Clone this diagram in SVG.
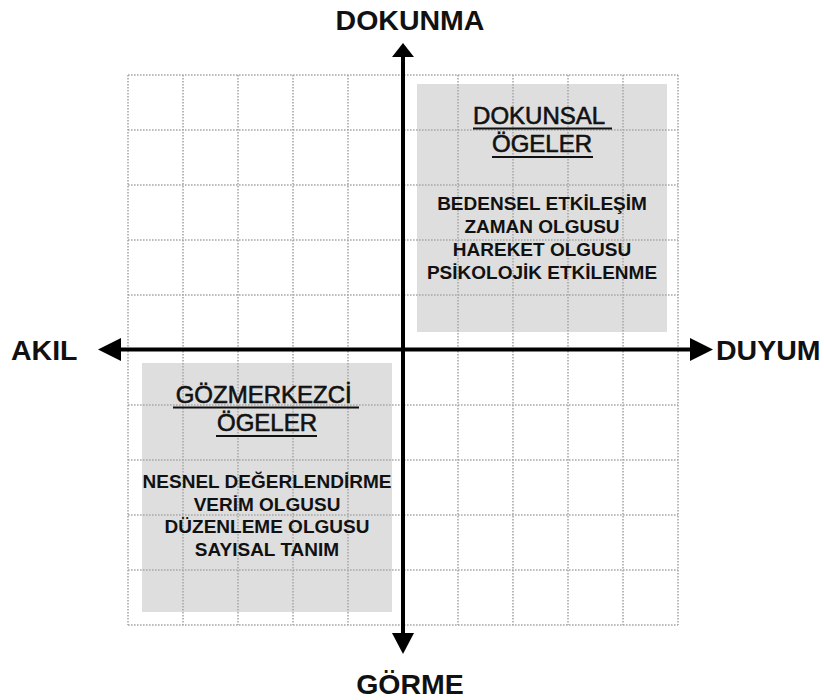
<svg xmlns="http://www.w3.org/2000/svg" width="824" height="700" viewBox="0 0 824 700">
  <style>
    .grid line { stroke: #a8a8a8; stroke-width: 1.6; stroke-dasharray: 1.6 1.4; }
    .panel { fill: #dedede; }
    .axis-label { font-family: "Liberation Sans", Arial, sans-serif; font-weight: bold; font-size: 28.5px; fill: #111; }
    .title { font-family: "Liberation Sans", Arial, sans-serif; font-size: 24px; fill: #111; stroke: #111; stroke-width: 0.6; text-anchor: middle; }
    .item { font-family: "Liberation Sans", Arial, sans-serif; font-weight: bold; font-size: 19px; fill: #111; text-anchor: middle; }
    .uline { fill: #111; }
    .axis { stroke: #000; stroke-width: 4; fill: none; }
    .head { fill: #000; }
  </style>

  <rect width="824" height="700" fill="#fff"/>

  <!-- quadrant panels -->
  <g id="panel-dokunsal">
    <rect class="panel" x="417" y="84" width="250" height="248"/>
  </g>
  <g id="panel-gozmerkezci">
    <rect class="panel" x="142" y="363" width="250" height="249"/>
  </g>

  <!-- dotted background grid, 10 x 10 cells of 55px -->
  <g class="grid">
    <line x1="128" y1="75" x2="128" y2="625"/>
    <line x1="183" y1="75" x2="183" y2="625"/>
    <line x1="238" y1="75" x2="238" y2="625"/>
    <line x1="293" y1="75" x2="293" y2="625"/>
    <line x1="348" y1="75" x2="348" y2="625"/>
    <line x1="458" y1="75" x2="458" y2="625"/>
    <line x1="513" y1="75" x2="513" y2="625"/>
    <line x1="568" y1="75" x2="568" y2="625"/>
    <line x1="623" y1="75" x2="623" y2="625"/>
    <line x1="678" y1="75" x2="678" y2="625"/>
    <line x1="128" y1="75" x2="678" y2="75"/>
    <line x1="128" y1="130" x2="678" y2="130"/>
    <line x1="128" y1="185" x2="678" y2="185"/>
    <line x1="128" y1="240" x2="678" y2="240"/>
    <line x1="128" y1="295" x2="678" y2="295"/>
    <line x1="128" y1="405" x2="678" y2="405"/>
    <line x1="128" y1="460" x2="678" y2="460"/>
    <line x1="128" y1="515" x2="678" y2="515"/>
    <line x1="128" y1="570" x2="678" y2="570"/>
    <line x1="128" y1="625" x2="678" y2="625"/>
  </g>

  <!-- panel texts -->
  <g id="dokunsal-ogeler">
    <text class="title" x="542" y="124" xml:space="preserve">DOKUNSAL </text>
    <rect class="uline" x="473" y="127.5" width="139" height="2"/>
    <text class="title" x="542" y="152">ÖGELER</text>
    <rect class="uline" x="492" y="156" width="101" height="2"/>
    <text class="item" x="542" y="210">BEDENSEL ETKİLEŞİM</text>
    <text class="item" x="542" y="233">ZAMAN OLGUSU</text>
    <text class="item" x="542" y="256">HAREKET OLGUSU</text>
    <text class="item" x="542" y="279">PSİKOLOJİK ETKİLENME</text>
  </g>
  <g id="gozmerkezci-ogeler">
    <text class="title" x="267" y="403" xml:space="preserve">GÖZMERKEZCİ </text>
    <rect class="uline" x="173" y="406.5" width="186" height="2"/>
    <text class="title" x="267" y="431">ÖGELER</text>
    <rect class="uline" x="216" y="435" width="101" height="2"/>
    <text class="item" x="267" y="488">NESNEL DEĞERLENDİRME</text>
    <text class="item" x="267" y="510.5">VERİM OLGUSU</text>
    <text class="item" x="267" y="533">DÜZENLEME OLGUSU</text>
    <text class="item" x="267" y="555.5">SAYISAL TANIM</text>
  </g>

  <!-- axes -->
  <g id="axes">
    <line class="axis" x1="403" y1="56" x2="403" y2="634"/>
    <line class="axis" x1="120" y1="349.5" x2="691" y2="349.5"/>
    <polygon class="head" points="403,43 414,57 392,57"/>
    <polygon class="head" points="403,654 414,633 392,633"/>
    <polygon class="head" points="98,349.5 121,338 121,361"/>
    <polygon class="head" points="713,349.5 690,338 690,361"/>
  </g>

  <!-- axis labels -->
  <g id="label-dokunma">
    <text class="axis-label" x="410" y="29.5" text-anchor="middle">DOKUNMA</text>
  </g>
  <g id="label-gorme">
    <text class="axis-label" x="410" y="693.5" text-anchor="middle">GÖRME</text>
  </g>
  <g id="label-akil">
    <text class="axis-label" x="11" y="359.5">AKIL</text>
  </g>
  <g id="label-duyum">
    <text class="axis-label" x="716" y="359.5">DUYUM</text>
  </g>
</svg>
